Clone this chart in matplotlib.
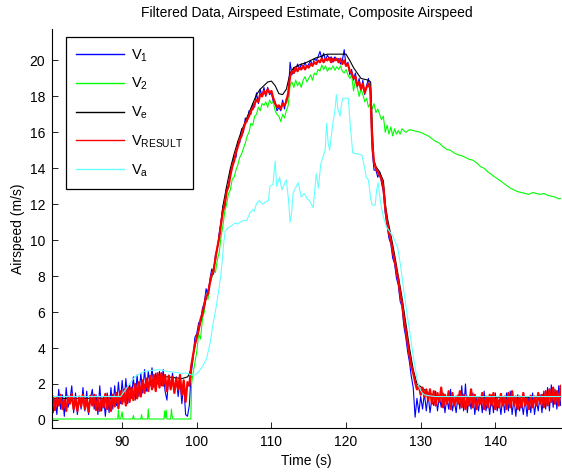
import numpy as np
import matplotlib
matplotlib.use("Agg")
import matplotlib.pyplot as plt

plt.rcParams['font.family'] = ['Liberation Sans', 'DejaVu Sans']
plt.rcParams['mathtext.fontset'] = 'custom'
plt.rcParams['mathtext.rm'] = 'Liberation Sans'
plt.rcParams['mathtext.it'] = 'Liberation Sans:italic'

# ---------------- data ----------------
T0 = 80.5      # first sample time of the fast-sampled series
DT = 0.25      # sample period of the fast-sampled series

# V_RESULT (red), one row per second (first row starts at 80.5)
v_result_rows = [
    [0.7, 1.3],
    [0.55, 1.25, 0.8, 1.4],   # 81
    [0.6, 1.1, 0.5, 1.3],     # 82
    [0.9, 1.45, 0.6, 1.2],    # 83
    [0.5, 1.3, 0.75, 1.4],    # 84
    [0.6, 1.15, 0.45, 1.35],  # 85
    [0.8, 1.4, 0.55, 1.25],   # 86
    [0.5, 1.2, 0.7, 1.45],    # 87
    [0.6, 1.3, 0.5, 1.4],     # 88
    [0.75, 1.5, 0.65, 1.6],   # 89
    [0.9, 1.7, 0.8, 1.85],    # 90
    [1.0, 1.8, 1.1, 2.0],     # 91
    [1.2, 2.1, 1.3, 2.2],     # 92
    [1.5, 2.3, 1.6, 2.45],    # 93
    [1.7, 2.5, 1.6, 2.6],     # 94
    [1.8, 2.6, 1.9, 2.5],     # 95
    [1.6, 2.45, 1.7, 2.4],    # 96
    [1.5, 2.3, 1.7, 2.5],     # 97
    [1.4, 2.2, 1.0, 2.1],     # 98
    [1.9, 3.0, 3.6, 4.2],     # 99
    [4.6, 5.0, 5.6, 5.9],     # 100
    [6.4, 6.9, 7.0, 7.6],     # 101
    [8.1, 8.3, 9.0, 9.6],     # 102
    [10.1, 10.9, 11.6, 12.0], # 103
    [12.7, 13.0, 13.6, 14.1], # 104
    [14.4, 14.9, 15.2, 15.6], # 105
    [15.8, 16.2, 16.5, 16.7], # 106
    [16.9, 17.2, 17.3, 17.6], # 107
    [17.8, 17.7, 18.1, 18.0], # 108
    [18.3, 18.1, 18.4, 18.2], # 109
    [18.3, 17.9, 17.6, 17.4], # 110
    [17.5, 17.3, 17.6, 17.5], # 111
    [17.7, 18.2, 19.1, 19.4], # 112
    [19.3, 19.6, 19.4, 19.6], # 113
    [19.5, 19.7, 19.5, 19.7], # 114
    [19.6, 19.8, 19.7, 19.9], # 115
    [19.8, 20.0, 19.9, 20.1], # 116
    [19.9, 20.1, 20.0, 20.15],# 117
    [19.9, 20.1, 20.0, 20.1], # 118
    [19.9, 20.1, 19.8, 20.0], # 119
    [19.7, 19.8, 19.4, 19.3], # 120
    [19.0, 19.1, 18.6, 18.8], # 121
    [18.4, 18.7, 18.2, 18.5], # 122
    [18.7, 18.4, 15.5, 14.3], # 123
    [14.0, 13.8, 13.6, 13.4], # 124
    [12.9, 11.8, 11.0, 10.4], # 125
    [10.0, 9.4, 8.9, 8.3],    # 126
    [7.8, 7.0, 6.5, 5.6],     # 127
    [5.0, 4.3, 3.6, 3.0],     # 128
    [2.6, 2.1, 1.7, 1.9],     # 129
    [1.4, 1.8, 1.3, 1.7],     # 130
    [1.1, 1.7, 0.9, 1.6],     # 131
    [0.8, 1.5, 1.0, 1.8],     # 132
    [0.7, 1.4, 0.9, 1.6],     # 133
    [0.6, 1.5, 0.8, 1.3],     # 134
    [0.9, 1.6, 0.7, 1.4],     # 135
    [0.6, 1.3, 0.8, 1.7],     # 136
    [0.7, 1.4, 0.6, 1.2],     # 137
    [0.9, 1.5, 0.6, 1.3],     # 138
    [0.7, 1.4, 0.8, 1.5],     # 139
    [0.6, 1.2, 0.7, 1.45],    # 140
    [0.8, 1.3, 0.6, 1.5],     # 141
    [0.7, 1.6, 0.8, 1.3],     # 142
    [0.6, 1.3, 0.7, 1.5],     # 143
    [0.8, 1.2, 0.6, 1.35],    # 144
    [0.7, 1.3, 0.8, 1.5],     # 145
    [0.9, 1.4, 0.7, 1.6],     # 146
    [0.8, 1.7, 1.0, 1.8],     # 147
    [0.9, 1.6, 0.8, 1.9],     # 148
    [1.2],                    # 149
]

# V_1 (blue), same sampling
v1_rows = [
    [1.6, 0.4],
    [1.2, 0.3, 1.7, 0.6],     # 81
    [1.4, 0.2, 1.8, 0.7],     # 82
    [1.1, 1.9, 0.4, 1.5],     # 83
    [0.3, 1.3, 0.6, 1.8],     # 84
    [0.5, 1.6, 0.3, 1.2],     # 85
    [1.7, 0.6, 1.4, 0.3],     # 86
    [1.9, 0.5, 1.3, 0.2],     # 87
    [1.5, 0.4, 1.8, 0.6],     # 88
    [1.9, 0.8, 2.1, 0.9],     # 89
    [2.2, 1.0, 2.3, 0.9],     # 90
    [2.0, 1.2, 2.4, 1.1],     # 91
    [2.5, 1.3, 2.6, 1.5],     # 92
    [2.8, 1.6, 2.7, 1.9],     # 93
    [2.9, 1.8, 2.6, 2.0],     # 94
    [2.7, 1.9, 2.8, 1.6],     # 95
    [1.1, 2.5, 1.8, 2.6],     # 96
    [1.6, 2.4, 1.3, 2.2],     # 97
    [0.9, 2.0, 0.3, 0.2],     # 98
    [0.8, 2.6, 3.4, 4.6],     # 99
    [4.8, 5.4, 5.5, 6.2],     # 100
    [6.5, 7.3, 6.9, 7.8],     # 101
    [8.4, 8.1, 9.2, 9.5],     # 102
    [10.4, 11.0, 11.9, 11.8], # 103
    [13.0, 12.9, 13.9, 14.0], # 104
    [14.7, 14.6, 15.5, 15.4], # 105
    [16.2, 16.0, 16.8, 16.6], # 106
    [17.2, 17.0, 17.6, 17.4], # 107
    [18.2, 17.6, 18.4, 18.0], # 108
    [18.5, 18.0, 18.5, 18.1], # 109
    [18.2, 17.7, 17.7, 17.2], # 110
    [17.4, 17.2, 17.8, 17.3], # 111
    [17.9, 18.0, 19.9, 19.2], # 112
    [19.6, 19.4, 19.8, 19.5], # 113
    [19.8, 19.6, 19.9, 19.6], # 114
    [19.8, 20.0, 19.7, 20.1], # 115
    [20.0, 20.2, 20.5, 20.1], # 116
    [20.4, 20.0, 20.3, 20.1], # 117
    [20.2, 19.9, 20.2, 20.0], # 118
    [20.1, 19.8, 20.0, 20.6], # 119
    [19.7, 19.9, 19.2, 19.5], # 120
    [18.9, 19.3, 18.5, 19.0], # 121
    [18.3, 18.9, 18.1, 18.6], # 122
    [19.0, 18.2, 15.0, 13.9], # 123
    [13.9, 13.5, 13.8, 13.2], # 124
    [12.7, 11.5, 10.8, 10.1], # 125
    [9.8, 9.0, 8.7, 7.9],     # 126
    [7.5, 6.6, 6.3, 5.2],     # 127
    [4.6, 3.8, 3.2, 2.4],     # 128
    [1.8, 0.15, 1.2, 0.4],    # 129
    [1.3, 0.6, 1.5, 0.5],     # 130
    [1.4, 0.4, 1.2, 0.8],     # 131
    [1.6, 0.5, 1.3, 0.7],     # 132
    [1.5, 0.4, 1.2, 0.6],     # 133
    [1.7, 0.5, 1.1, 0.4],     # 134
    [1.4, 0.6, 1.9, 0.5],     # 135
    [2.0, 0.4, 1.3, 0.6],     # 136
    [1.5, 0.3, 1.2, 0.5],     # 137
    [1.3, 0.4, 1.6, 0.5],     # 138
    [1.2, 0.3, 1.4, 0.4],     # 139
    [1.5, 0.5, 1.1, 0.3],     # 140
    [1.3, 0.4, 1.5, 0.5],     # 141
    [1.6, 0.3, 1.2, 0.2],     # 142
    [1.4, 0.5, 1.1, 0.3],     # 143
    [1.2, 0.2, 1.3, 0.4],     # 144
    [1.5, 0.3, 1.1, 0.5],     # 145
    [1.4, 0.4, 1.6, 0.6],     # 146
    [1.8, 0.5, 1.95, 0.7],    # 147
    [1.7, 0.6, 1.9, 0.8],     # 148
    [1.3],                    # 149
]

# V_2 (green)
v2_t = [80.5, 89.4, 89.5, 89.6, 89.8, 90.0, 90.1, 91.4, 91.5, 91.6, 92.5, 92.6,
        92.7, 93.4, 93.5, 93.6, 95.6, 95.7, 95.8, 95.9, 96.0, 96.5, 96.6, 96.7,
        96.8, 99.2, 99.3,
        99.5, 99.75, 100.0, 100.25, 100.5, 100.75, 101.0, 101.25, 101.5, 101.75,
        102.0, 102.25, 102.5, 102.75, 103.0, 103.25, 103.5, 103.75, 104.0, 104.25,
        104.5, 104.75, 105.0, 105.25, 105.5, 105.75, 106.0, 106.25, 106.5, 106.75,
        107.0, 107.25, 107.5, 107.75, 108.0, 108.25, 108.5, 108.75, 109.0, 109.25,
        109.5, 109.75, 110.0, 110.25, 110.5, 110.75, 111.0, 111.25, 111.5, 111.75,
        112.0, 112.25, 112.5, 112.75, 113.0, 113.25, 113.5, 113.75, 114.0, 114.25,
        114.5, 114.75, 115.0, 115.25, 115.5, 115.75, 116.0, 116.25, 116.5, 116.75,
        117.0, 117.25, 117.5, 117.75, 118.0, 118.25, 118.5, 118.75, 119.0, 119.25,
        119.5, 119.75, 120.0, 120.25, 120.5, 120.75, 121.0, 121.25, 121.5, 121.75,
        122.0, 122.25, 122.5, 122.75, 123.0, 123.25, 123.5, 123.75, 124.0, 124.25,
        124.5, 124.75, 125.0, 125.25, 125.5, 125.75, 126.0, 126.25, 126.5, 126.75,
        127.0, 127.25, 127.5, 128.0, 128.5, 129.0, 129.5, 130.0, 130.5, 131.0,
        131.5, 132.0, 132.5, 133.0, 133.5, 134.0, 134.5, 135.0, 135.5, 136.0,
        136.5, 137.0, 137.5, 138.0, 138.5, 139.0, 139.5, 140.0, 140.5, 141.0,
        141.5, 142.0, 142.5, 143.0, 143.5, 144.0, 144.5, 145.0, 145.5, 146.0,
        146.5, 147.0, 147.5, 148.0, 148.5, 149.0]
v2_v = [0.05, 0.05, 0.55, 0.05, 0.05, 0.45, 0.05, 0.05, 0.25, 0.05, 0.05, 0.3,
        0.05, 0.05, 0.6, 0.05, 0.05, 0.5, 0.1, 0.55, 0.05, 0.05, 0.6, 0.2,
        0.05, 0.05, 2.0,
        2.6, 3.2, 3.8, 4.8, 4.5, 5.6, 6.0, 7.0, 6.7, 7.6,
        7.9, 8.4, 8.2, 8.9, 9.3, 10.2, 10.8, 11.6, 12.0, 12.6,
        12.8, 13.4, 13.5, 13.9, 14.2, 14.6, 14.8, 15.1, 15.4, 15.8,
        16.0, 16.5, 16.4, 16.9, 17.0, 17.4, 17.2, 17.6, 17.5, 17.7,
        17.4, 17.8, 17.6, 17.7, 17.2, 17.0, 16.9, 16.6, 17.0, 16.8,
        17.2, 17.5, 18.6, 18.8, 18.5, 18.9, 18.6, 18.8, 18.5, 18.9,
        19.1, 18.8, 19.0, 19.2, 18.9, 19.3, 19.2, 19.5, 19.4, 19.75,
        19.5, 19.7, 19.4, 19.6, 19.5, 19.7, 19.45, 19.65, 19.5, 19.7,
        19.4, 19.3, 19.5, 19.2, 19.0, 19.2, 18.3, 18.9, 18.5, 18.0,
        18.4, 18.1, 17.7, 17.9, 17.4, 17.6, 17.3, 17.6, 17.1, 17.3,
        17.0, 16.7, 16.9, 16.0, 16.4, 15.9, 16.3, 15.8, 16.2, 15.9,
        16.1, 15.9, 16.2, 16.0, 16.15, 16.1, 16.05, 16.0, 15.9, 15.8,
        15.65, 15.5, 15.4, 15.2, 15.05, 15.0, 14.85, 14.75, 14.7, 14.6,
        14.5, 14.45, 14.3, 14.1, 14.0, 13.8, 13.65, 13.5, 13.35, 13.2,
        13.05, 12.9, 12.8, 12.7, 12.65, 12.6, 12.55, 12.65, 12.6, 12.55,
        12.6, 12.5, 12.45, 12.4, 12.3, 12.35]

# V_e (black)
ve_t = [80.5, 89.0, 90.0, 91.0, 92.0, 93.0, 94.0, 95.0, 96.0, 97.0, 98.0, 98.8,
        99.2, 99.6, 100.0, 100.5, 101.0, 101.5, 102.0, 102.5, 103.0, 103.5, 104.0,
        104.5, 105.0, 105.5, 106.0, 106.5, 107.0, 107.5, 108.0, 108.5, 109.0,
        109.5, 110.0, 110.5, 111.0, 111.5, 112.0, 112.5, 113.0, 113.5, 114.0,
        114.5, 115.0, 115.5, 116.0, 116.5, 117.0, 117.5, 118.5, 119.5, 120.0,
        120.5, 121.0, 121.5, 122.0, 122.5, 123.0, 123.3, 123.5, 123.7, 124.0,
        124.5, 125.0, 125.3, 125.6, 126.0, 126.5, 127.0, 127.5, 128.0, 128.5,
        129.0, 129.5, 130.0, 131.0, 132.5, 144.6, 145.0, 145.4, 149.0]
ve_v = [1.2, 1.2, 1.25, 1.45, 1.7, 1.95, 2.2, 2.35, 2.4, 2.35, 2.3, 2.4,
        2.8, 3.8, 4.6, 5.4, 6.3, 7.2, 8.0, 8.9, 10.2, 11.9, 13.0,
        14.0, 14.8, 15.5, 16.1, 16.6, 17.1, 17.6, 18.1, 18.4, 18.6,
        18.8, 18.85, 18.6, 18.15, 18.1, 18.4, 19.3, 19.6, 19.7, 19.8,
        19.85, 19.95, 20.05, 20.15, 20.2, 20.3, 20.35, 20.35, 20.35, 20.35,
        20.0, 19.6, 19.3, 19.0, 18.95, 18.9, 18.8, 16.5, 14.5, 14.1,
        13.8, 13.3, 11.9, 11.1, 10.3, 9.2, 8.0, 6.8, 5.4, 4.0,
        2.8, 2.0, 1.85, 1.5, 1.28, 1.25, 0.8, 1.25, 1.25]

# V_a (cyan)
va_t = [80.5, 89.8, 90.3, 91.0, 91.7, 92.5, 93.0, 94.0, 95.0, 95.5, 96.0, 97.0,
        98.0, 98.7, 99.3, 99.8, 100.3, 100.8, 101.3, 101.8, 102.2, 102.6, 102.9,
        103.2, 103.4, 103.6, 103.8, 104.2, 104.4, 104.7, 105.1, 105.5, 105.8,
        106.3, 106.7, 107.1, 107.5, 107.7, 108.0, 108.4, 108.8, 109.3, 109.6,
        109.8, 110.2, 110.5, 110.7, 111.1, 111.4, 111.6, 112.0, 112.3, 112.5,
        112.7, 112.9, 113.2, 113.6, 114.0, 114.4, 114.8, 115.1, 115.6, 116.0,
        116.3, 116.6, 116.9, 117.2, 117.4, 117.6, 117.8, 118.2, 118.5, 118.7,
        118.9, 119.2, 119.4, 119.6, 120.3, 120.6, 120.9, 121.5, 122.1, 122.5,
        122.7, 123.0, 123.3, 123.5, 123.9, 124.1, 124.3, 124.5, 124.7, 125.0,
        125.4, 126.3, 126.9, 127.3, 127.8, 128.2, 128.5, 128.9, 129.2, 129.5,
        129.8, 130.2, 130.5, 131.0, 132.0, 149.0]
va_v = [1.3, 1.3, 1.6, 2.0, 2.4, 2.6, 2.7, 2.75, 2.8, 2.75, 2.7, 2.65,
        2.6, 2.6, 2.5, 2.5, 2.7, 3.0, 3.4, 4.3, 5.4, 6.3, 7.1,
        8.0, 8.8, 9.8, 10.5, 10.7, 10.75, 10.8, 10.95, 10.9, 11.0,
        11.1, 11.1, 11.5, 11.7, 11.6, 12.05, 12.2, 12.0, 12.15, 12.2,
        13.0, 13.1, 14.4, 13.0, 13.5, 12.8, 13.0, 13.35, 12.2, 11.0,
        11.5, 12.6, 12.9, 13.2, 12.4, 12.6, 12.3, 12.2, 11.8, 13.7,
        12.9, 14.2, 14.65, 15.0, 16.5, 15.4, 15.0, 16.4, 17.2, 18.1,
        17.3, 16.9, 17.6, 17.9, 17.9, 16.2, 14.85, 14.8, 14.75, 14.0,
        13.5, 13.35, 12.3, 11.95, 11.95, 12.8, 13.2, 12.5, 11.9, 11.3,
        10.75, 10.2, 9.6, 8.6, 7.0, 5.8, 5.0, 3.8, 3.05, 2.3,
        1.8, 1.5, 1.4, 1.35, 1.3, 1.3]

legend_labels = [r'$\mathrm{V_{1}}$', r'$\mathrm{V_{2}}$', r'$\mathrm{V_{e}}$',
                 r'$\mathrm{V_{RESULT}}$', r'$\mathrm{V_{a}}$']
title_text = 'Filtered Data, Airspeed Estimate, Composite Airspeed'
xlabel_text = 'Time (s)'
ylabel_text = 'Airspeed (m/s)'
xticks = [90, 100, 110, 120, 130, 140]
yticks = [0, 2, 4, 6, 8, 10, 12, 14, 16, 18, 20]

# ---------------- build ----------------
v_result = [v for row in v_result_rows for v in row]
v1 = [v for row in v1_rows for v in row]
t_res = T0 + DT * np.arange(len(v_result))
t_v1 = T0 + DT * np.arange(len(v1))

fig = plt.figure(figsize=(5.62, 4.72), dpi=100)
ax = fig.add_axes([52 / 562, 44 / 472, 509 / 562, 399 / 472])

ax.plot(t_v1, v1, color='#0000ff', lw=0.8, label=legend_labels[0])
ax.plot(v2_t, v2_v, color='#00ff00', lw=0.8, label=legend_labels[1])
ax.plot(ve_t, ve_v, color='black', lw=0.8, label=legend_labels[2])
ax.plot(t_res, v_result, color='#ff0000', lw=1.6, label=legend_labels[3])
ax.plot(va_t, va_v, color='#66ffff', lw=0.8, label=legend_labels[4])

ax.set_xlim(80.6, 148.8)
ax.set_ylim(-0.45, 21.75)
ax.set_xticks(xticks)
ax.set_yticks(yticks)
ax.tick_params(direction='in', length=4, width=0.6, labelsize=10, pad=5)
for s in ['top', 'right']:
    ax.spines[s].set_visible(False)
for s in ['left', 'bottom']:
    ax.spines[s].set_linewidth(0.8)

ax.set_title(title_text, fontsize=10, pad=8.5)
ax.set_xlabel(xlabel_text, fontsize=10, labelpad=4)
ax.set_ylabel(ylabel_text, fontsize=10, labelpad=3)

leg = ax.legend(loc='upper left', bbox_to_anchor=(14 / 509, 1 - 8 / 399),
                borderaxespad=0, fontsize=10.5, handlelength=3.3,
                handletextpad=0.45, labelspacing=0.85, borderpad=0.7,
                fancybox=False, framealpha=1, edgecolor='black')
leg.get_frame().set_linewidth(0.9)
for line in leg.get_lines():
    line.set_linewidth(1.0)

fig.savefig('out.png', dpi=100)
